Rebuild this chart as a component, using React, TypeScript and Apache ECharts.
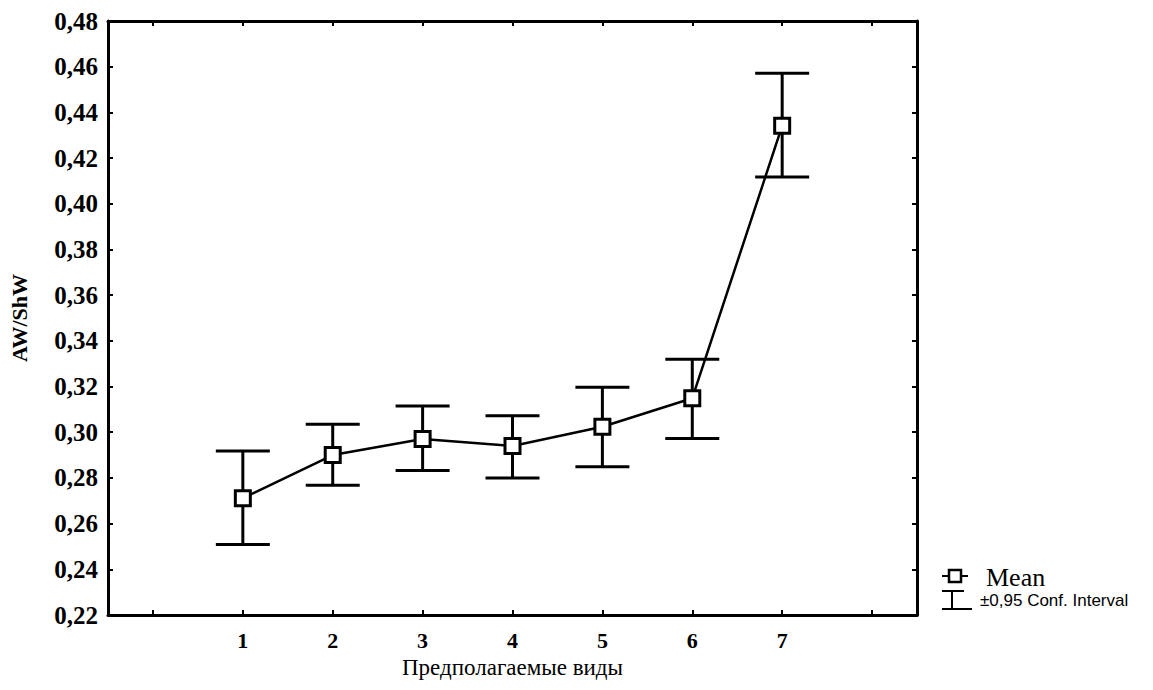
import React, { useEffect, useRef } from "react";
import * as echarts from "echarts";

const CATEGORIES = ["0", "1", "2", "3", "4", "5", "6", "7", "8"];
const GROUPS = [1, 2, 3, 4, 5, 6, 7];
const MEAN = [0.2711, 0.29, 0.297, 0.294, 0.3024, 0.3149, 0.4341];
const UPPER = [0.2918, 0.3035, 0.3115, 0.3072, 0.3197, 0.3319, 0.4571];
const LOWER = [0.2509, 0.2768, 0.2833, 0.28, 0.2849, 0.2973, 0.4117];
const Y_MIN = 0.22;
const Y_MAX = 0.48;
const Y_STEP = 0.02;
const X_TITLE = "Предполагаемые виды";
const Y_TITLE = "AW/ShW";
const LEGEND_MEAN = "Mean";
const LEGEND_CI = "±0,95 Conf. Interval";

const SERIF = "'Liberation Serif', 'DejaVu Serif', serif";
const SANS = "'Liberation Sans', Arial, sans-serif";

export default function App() {
  const ref = useRef<HTMLDivElement>(null);
  useEffect(() => {
    document.body.style.margin = "0";
    if (!ref.current) return;
    const chart = echarts.init(ref.current, null, { renderer: "svg" });
    const xLabel = (v: string) => (v === "0" || v === "8" ? "" : v);
    const yLabel = (v: number) => v.toFixed(2).replace(".", ",");
    const axisLine = { show: true, lineStyle: { color: "#000", width: 3 } };
    const axisTick = { show: true, inside: true, length: 5, lineStyle: { color: "#000", width: 2 } };
    chart.setOption({
      animation: false,
      backgroundColor: "#fff",
      grid: { left: 105, right: 236, top: 21, bottom: 75, containLabel: false },
      xAxis: [
        {
          type: "category",
          data: CATEGORIES,
          position: "bottom",
          boundaryGap: true,
          axisLine,
          axisTick: { ...axisTick, alignWithLabel: true },
          axisLabel: {
            formatter: xLabel,
            color: "#000",
            fontFamily: SERIF,
            fontWeight: "bold",
            fontSize: 22,
            margin: 14,
            interval: 0,
          },
          splitLine: { show: false },
          name: X_TITLE,
          nameLocation: "middle",
          nameGap: 40,
          nameTextStyle: { color: "#000", fontFamily: SERIF, fontSize: 23 },
        },
        {
          type: "category",
          data: CATEGORIES,
          position: "top",
          boundaryGap: true,
          axisLine,
          axisTick: { ...axisTick, alignWithLabel: true },
          axisLabel: { show: false },
          splitLine: { show: false },
        },
      ],
      yAxis: [
        {
          type: "value",
          min: Y_MIN,
          max: Y_MAX,
          interval: Y_STEP,
          position: "left",
          axisLine,
          axisTick,
          axisLabel: {
            formatter: yLabel,
            color: "#000",
            fontFamily: SERIF,
            fontWeight: "bold",
            fontSize: 25,
            margin: 10,
          },
          splitLine: { show: false },
          name: Y_TITLE,
          nameLocation: "middle",
          nameRotate: 90,
          nameGap: 78,
          nameTextStyle: { color: "#000", fontFamily: SERIF, fontWeight: "bold", fontSize: 22 },
        },
        {
          type: "value",
          min: Y_MIN,
          max: Y_MAX,
          interval: Y_STEP,
          position: "right",
          axisLine,
          axisTick,
          axisLabel: { show: false },
          splitLine: { show: false },
        },
      ],
      series: [
        {
          type: "custom",
          xAxisIndex: 0,
          yAxisIndex: 0,
          z: 2,
          data: GROUPS.map((g, i) => [g, LOWER[i], UPPER[i]]),
          renderItem: (_params: any, api: any) => {
            const x = api.value(0);
            const lo = api.coord([x, api.value(1)]);
            const hi = api.coord([x, api.value(2)]);
            const half = 27;
            const style = { stroke: "#000", lineWidth: 3 };
            return {
              type: "group",
              children: [
                { type: "line", shape: { x1: lo[0], y1: lo[1], x2: hi[0], y2: hi[1] }, style },
                { type: "line", shape: { x1: hi[0] - half, y1: hi[1], x2: hi[0] + half, y2: hi[1] }, style },
                { type: "line", shape: { x1: lo[0] - half, y1: lo[1], x2: lo[0] + half, y2: lo[1] }, style },
              ],
            };
          },
        },
        {
          type: "line",
          xAxisIndex: 0,
          yAxisIndex: 0,
          z: 3,
          data: GROUPS.map((g, i) => [g, MEAN[i]]),
          symbol: "rect",
          symbolSize: 15,
          lineStyle: { color: "#000", width: 2.5 },
          itemStyle: { color: "#fff", borderColor: "#000", borderWidth: 3 },
        },
      ],
      graphic: [
        { type: "line", shape: { x1: 942, y1: 576, x2: 968, y2: 576 }, style: { stroke: "#000", lineWidth: 2 } },
        { type: "rect", shape: { x: 949, y: 570, width: 12, height: 12 }, style: { fill: "#fff", stroke: "#000", lineWidth: 2.5 } },
        { type: "line", shape: { x1: 942, y1: 591, x2: 964, y2: 591 }, style: { stroke: "#000", lineWidth: 2 } },
        { type: "line", shape: { x1: 952, y1: 591, x2: 952, y2: 609 }, style: { stroke: "#000", lineWidth: 2 } },
        { type: "line", shape: { x1: 942, y1: 609, x2: 972, y2: 609 }, style: { stroke: "#000", lineWidth: 2 } },
        {
          type: "text",
          x: 986,
          y: 577,
          style: { text: LEGEND_MEAN, font: `26px ${SERIF}`, fill: "#000", verticalAlign: "middle" },
        },
        {
          type: "text",
          x: 980,
          y: 600,
          style: { text: LEGEND_CI, font: `17px ${SANS}`, fill: "#000", verticalAlign: "middle" },
        },
      ],
    });
    return () => chart.dispose();
  }, []);
  return <div ref={ref} style={{ width: 1153, height: 690 }} />;
}
